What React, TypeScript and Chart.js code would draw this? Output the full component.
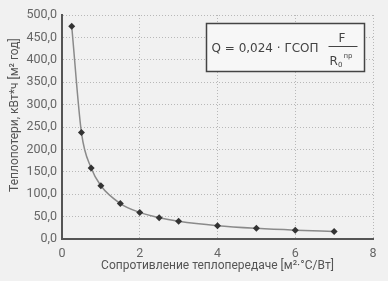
import React, { useEffect, useRef } from "react";
import { Chart, registerables } from "chart.js";

Chart.register(...registerables);

const resistance = [0.25, 0.5, 0.75, 1, 1.5, 2, 2.5, 3, 4, 5, 6, 7];
const heatLoss = [475, 237.5, 158.3, 118.8, 79.2, 59.4, 47.5, 39.6, 29.7, 23.8, 19.8, 17.0];
const xTickValues = [0, 2, 4, 6, 8];
const yTickStep = 50;
const NB = "\u00a0";
const yTitle = NB.repeat(8) + "Теплопотери, кВт*ч [м² год]";
const xTitle = "Сопротивление теплопередаче [м²·°C/Вт]";

const FONT = "Roboto";
const FORMULA_FONT = "'DejaVu Sans'";

const formulaPlugin = {
  id: "formula",
  afterDraw(chart: any) {
    const ctx = chart.ctx as CanvasRenderingContext2D;
    const a = chart.chartArea;
    const bx = a.left + 144.5;
    const by = a.top + 8.5;
    ctx.save();
    ctx.fillStyle = "#f7f7f7";
    ctx.fillRect(bx, by, 158, 48);
    ctx.strokeStyle = "#444";
    ctx.lineWidth = 1.5;
    ctx.strokeRect(bx, by, 158, 48);
    ctx.fillStyle = "#444";
    ctx.textBaseline = "alphabetic";
    ctx.textAlign = "left";
    ctx.font = `12px ${FORMULA_FONT}`;
    ctx.fillText("Q = 0,024 · ГСОП", bx + 5, by + 28.5);
    ctx.textAlign = "center";
    ctx.fillText("F", bx + 135.5, by + 18);
    ctx.strokeStyle = "#444";
    ctx.lineWidth = 1;
    ctx.beginPath();
    ctx.moveTo(bx + 122, by + 23);
    ctx.lineTo(bx + 151, by + 23);
    ctx.stroke();
    ctx.textAlign = "left";
    ctx.fillText("R", bx + 123, by + 41.5);
    ctx.font = `7px ${FORMULA_FONT}`;
    ctx.fillText("0", bx + 131.5, by + 43.5);
    ctx.fillText("пр", bx + 137, by + 34);
    ctx.restore();
  },
};

const bgPlugin = {
  id: "bg",
  beforeDraw(chart: any) {
    const ctx = chart.ctx as CanvasRenderingContext2D;
    ctx.save();
    ctx.fillStyle = "#f1f1f1";
    ctx.fillRect(0, 0, chart.width, chart.height);
    ctx.restore();
  },
};

export default function App() {
  const ref = useRef<HTMLCanvasElement | null>(null);
  useEffect(() => {
    document.body.style.margin = "0";
    if (!ref.current) return;
    const chart = new Chart(ref.current, {
      type: "scatter",
      data: {
        datasets: [
          {
            data: resistance.map((x, i) => ({ x, y: heatLoss[i] })),
            showLine: true,
            borderColor: "#8a8a8a",
            borderWidth: 1.5,
            cubicInterpolationMode: "monotone",
            pointStyle: "rectRot",
            pointRadius: 3.5,
            pointBackgroundColor: "#333",
            pointBorderColor: "#333",
            pointBorderWidth: 0,
          },
        ],
      },
      options: {
        animation: false,
        responsive: false,
        maintainAspectRatio: false,
        layout: { padding: { top: 15, right: 15, left: 0, bottom: 0 } },
        plugins: { legend: { display: false }, tooltip: { enabled: false } },
        scales: {
          x: {
            type: "linear",
            min: 0,
            max: 8,
            afterFit: (s: any) => {
              s.height = 42;
            },
            afterBuildTicks: (s: any) => {
              s.ticks = xTickValues.map((v) => ({ value: v }));
            },
            ticks: {
              color: "#666",
              font: { family: FONT, size: 12.5 },
              padding: 7,
              callback: (v: any) => String(v),
            },
            grid: { color: "#b8b8b8", drawTicks: false, lineWidth: 1 },
            border: { display: true, color: "#555", width: 2, dash: [1, 2] },
            title: {
              display: true,
              text: xTitle,
              color: "#555",
              font: { family: FONT, size: 12 },
              padding: { top: 0, bottom: 8 },
            },
          },
          y: {
            type: "linear",
            min: 0,
            max: 500,
            afterFit: (s: any) => {
              s.width = 62;
            },
            ticks: {
              stepSize: yTickStep,
              color: "#666",
              font: { family: FONT, size: 12.5 },
              padding: 5,
              callback: (v: any) => Number(v).toFixed(1).replace(".", ","),
            },
            grid: { color: "#b8b8b8", drawTicks: false, lineWidth: 1 },
            border: { display: true, color: "#555", width: 2, dash: [1, 2] },
            title: {
              display: true,
              text: yTitle,
              color: "#555",
              font: { family: FONT, size: 12 },
              padding: { top: 8, bottom: 0 },
            },
          },
        },
      },
      plugins: [bgPlugin, formulaPlugin],
    });
    return () => chart.destroy();
  }, []);
  return (
    <div style={{ width: 388, height: 281 }}>
      <canvas ref={ref} width={388} height={281} style={{ display: "block" }} />
    </div>
  );
}
